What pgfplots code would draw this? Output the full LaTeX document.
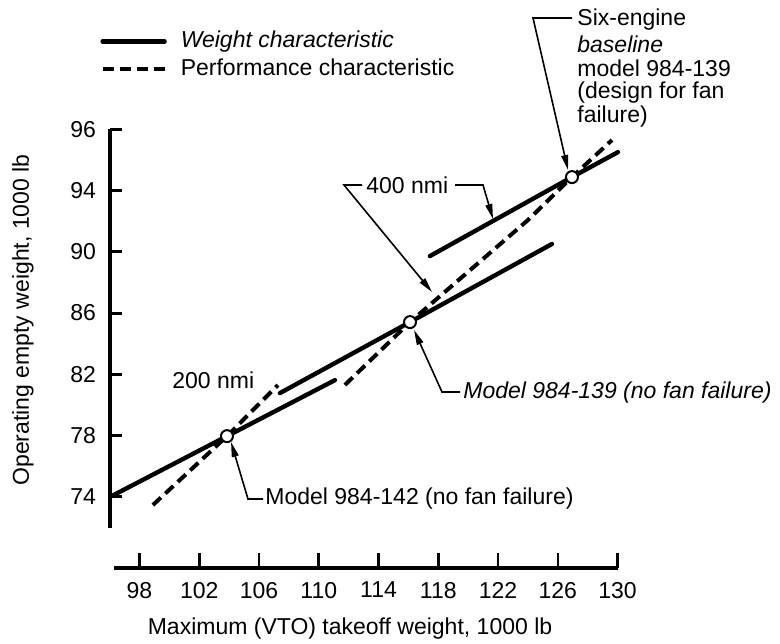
\documentclass[border=0pt]{standalone}
\usepackage{fontspec}
\setmainfont{Liberation Sans}
\usepackage{pgfplots}
\pgfplotsset{compat=1.18}
\usetikzlibrary{arrows.meta}
\begin{document}
\fontsize{11.5pt}{14pt}\selectfont
\begin{tikzpicture}[x=0.5pt,y=-0.5pt,
  leader/.style={line width=0.8pt,-{Triangle[length=7.5pt,width=3.4pt]}},
  lbl/.style={font=\fontsize{11.5pt}{14pt}\selectfont, inner sep=0pt}]
\useasboundingbox (0,0) rectangle (780,643);
\begin{axis}[
  at={(55pt,-264pt)}, anchor=south west,
  x=7.47pt, y=7.655pt,
  xmin=96.03, xmax=130, ymin=71.96, ymax=98,
  axis x line=none, axis y line=left,
  axis line style={-, line width=2.2pt},
  ytick={74,78,82,86,90,94,98},
  yticklabels={74,78,82,86,90,94,96},
  tick align=inside, major tick length=6pt,
  ytick style={line width=1.5pt, black},
  yticklabel style={font=\fontsize{11.5pt}{14pt}\selectfont, xshift=-3pt},
  /pgf/number format/assume math mode=true,
  clip=false,
  legend image code/.code={\draw[#1] (0pt,0pt) -- (31pt,0pt);},
  legend cell align=left,
  legend style={at={(-0.0197,1.254)}, anchor=north west, draw=none, fill=none,
    inner sep=0pt, row sep=1pt,
    nodes={inner sep=1pt, text height=8.5pt, text depth=2.5pt, font=\fontsize{11.5pt}{14pt}\selectfont},
    /tikz/every odd column/.append style={column sep=6pt}},
  wline/.style={black, line width=2.2pt, line cap=round},
  pline/.style={black, line width=2pt, dash pattern=on 5.5pt off 3pt},
]
% 200 nmi weight characteristic (through Model 984-142)
\addplot[wline] coordinates {(96.05,74.0) (103.86,77.96) (111.09,81.62)};
\addlegendentry{\textit{Weight characteristic}}
% 200 nmi performance characteristic
\addplot[pline] coordinates {(98.90,73.46) (103.86,77.96) (107.27,81.30)};
\addlegendentry{Performance characteristic}
% 400 nmi weight characteristic (no fan failure)
\addplot[wline, forget plot] coordinates {(107.40,80.77) (116.11,85.41) (125.61,90.51)};
% 400 nmi weight characteristic (design for fan failure)
\addplot[wline, forget plot] coordinates {(117.44,89.72) (126.95,94.88) (130.03,96.51)};
% 400 nmi performance characteristic
\addplot[pline, forget plot] coordinates {(111.75,81.30) (116.11,85.41) (124.00,92.07) (126.95,94.88) (129.63,97.30)};
% design points
\addplot[only marks, mark=*, mark size=3pt, mark options={fill=white, draw=black, line width=1pt}, forget plot]
  coordinates {(103.86,77.96) (116.11,85.41) (126.95,94.88)};
\end{axis}
\begin{axis}[
  at={(56.75pt,-284pt)}, anchor=south west,
  x=7.47pt, y=1pt,
  xmin=96.26, xmax=130, ymin=0, ymax=1,
  axis x line=bottom, axis y line=none,
  axis line style={-, line width=1.6pt},
  xtick={98,102,106,110,114,118,122,126,130},
  tick align=inside, major tick length=7.5pt,
  xtick style={line width=1.3pt, black},
  xticklabel style={font=\fontsize{11.5pt}{14pt}\selectfont, yshift=-3pt},
  /pgf/number format/assume math mode=true,
  /pgf/number format/1000 sep={},
]
\addplot[draw=none] coordinates {(100,0.5)};
\end{axis}
% annotations
\node[lbl, anchor=west] at (577,20) {Six-engine};
\node[lbl, anchor=west] at (577,44) {\textit{baseline}};
\node[lbl, anchor=west] at (577,68) {model 984-139};
\node[lbl, anchor=west] at (577,93) {(design for fan};
\node[lbl, anchor=west] at (577,117) {failure)};
\draw[leader] (572,18) -- (533,18) -- (568,170);
\node[lbl, anchor=west] at (366,185) {400 nmi};
\draw[leader] (362,185) -- (344,185) -- (432,292);
\draw[leader] (455,185) -- (483,185) -- (493,219);
\node[lbl, anchor=west] at (172,380) {200 nmi};
\node[lbl, anchor=west] at (463,393) {\textit{Model 984-139 (no fan failure)}};
\draw[leader] (460,392) -- (442,392) -- (414,330);
\node[lbl, anchor=west] at (265,499) {Model 984-142 (no fan failure)};
\draw[leader] (263,499) -- (248,499) -- (231,442);
\node[lbl, rotate=90] at (23,320) {Operating empty weight, 1000 lb};
\node[lbl] at (350,629) {Maximum (VTO) takeoff weight, 1000 lb};
\end{tikzpicture}
\end{document}
